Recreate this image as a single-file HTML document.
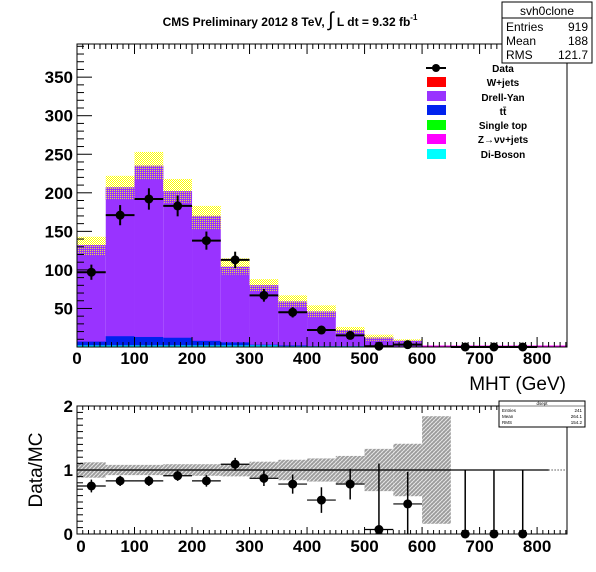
<!DOCTYPE html>
<html><head><meta charset="utf-8"><style>
body{margin:0;background:#fff;}
svg{display:block;font-family:"Liberation Sans",sans-serif;}
</style></head><body>
<svg id="c" width="596" height="572" xmlns="http://www.w3.org/2000/svg">
<defs>
<pattern id="yel" width="2" height="2" patternUnits="userSpaceOnUse"><rect width="2" height="2" fill="#fff"/><rect width="1" height="1" fill="#ffff00"/><rect x="1" y="1" width="1" height="1" fill="#ffff00"/></pattern>
<pattern id="hat" width="2" height="2" patternUnits="userSpaceOnUse"><rect width="2" height="2" fill="#9933ff"/><rect width="1" height="1" fill="#f0e040"/></pattern>
<pattern id="gry" width="4" height="4" patternUnits="userSpaceOnUse"><rect width="4" height="4" fill="#fff"/><path d="M0 4L4 0M-1 1L1 -1M3 5L5 3" stroke="#999" stroke-width="1.8"/><path d="M0 0L4 4" stroke="#aaa" stroke-width="1"/></pattern>
</defs>
<g id="main"></g><g id="lower"></g>
</svg>
<script>
const binLo=[0,50,100,150,200,250,300,350,400,450,500,550,600,650,700,750];
const dataVals=[97,171,192,183,138,113,67,45,22,15,1,3,null,0,0,0];
const mcTotal=[132,207,235,202,170,104,80,59,46,22,12,8,0,0,0,0];
const mcLow=[118,191,217,187,153,94,72,52,38,18,8,6,0,0,0,0];
const mcUp=[143,222,253,218,183,115,88,67,54,26,16,10,0,0,0,0];
const ttbar=[7,14,13,12,8,6,3,2,1,1,0,0,0,0,0,0];
const diboson=[2,2,2,2,2,2,2,1,1,1,0,0,0,0,0,0];
const ratioVals=[0.75,0.83,0.83,0.91,0.83,1.09,0.87,0.78,0.53,0.78,0.07,0.47,null,0,0,0];
const ratioErr=[0.1,0.08,0.08,0.08,0.09,0.1,0.12,0.15,0.2,0.24,1.03,0.5,null,1.0,1.0,1.0];
const bandHalf=[0.12,0.08,0.08,0.09,0.09,0.1,0.13,0.16,0.18,0.22,0.33,0.41,0.84];
const yTicks=[50,100,150,200,250,300,350];
const xTicks=[0,100,200,300,400,500,600,700,800];
const rTicks=[0,1,2];
const NS="http://www.w3.org/2000/svg";
const L=77,R=567,T=44,B=347,XMAX=852,YMAX=393;
const LT=406,LB=534;
const X=v=>L+v*(R-L)/XMAX;
const Y=v=>B-v*(B-T)/YMAX;
const YR=v=>LB-v*(LB-LT)/2;
function mk(p,tag,at,txt){const e=document.createElementNS(NS,tag);for(const k in at)e.setAttribute(k,at[k]);if(txt!==undefined)e.textContent=txt;p.appendChild(e);return e;}
const g=document.getElementById('main'),lg=document.getElementById('lower');
binLo.forEach((b,i)=>{
 const x0=X(b),x1=X(b+50);
 if(mcUp[i]>0){let r=mk(g,'rect',{x:x0,y:Y(mcUp[i]),width:x1-x0,height:Y(mcLow[i])-Y(mcUp[i]),fill:'url(#yel)'});
 }
 if(mcTotal[i]>0){let r=mk(g,'rect',{x:x0,y:Y(mcTotal[i]),width:x1-x0,height:B-Y(mcTotal[i]),fill:'#9933ff'});
 
 let h=mk(g,'rect',{x:x0,y:Y(mcTotal[i]),width:x1-x0,height:Y(mcLow[i])-Y(mcTotal[i]),fill:'url(#hat)'});
 }
 if(ttbar[i]>0){let r=mk(g,'rect',{x:x0,y:Y(ttbar[i]),width:x1-x0,height:B-Y(ttbar[i]),fill:'#0022ee'});
 }
 if(diboson[i]>0){let r=mk(g,'rect',{x:x0,y:Y(diboson[i]),width:x1-x0,height:B-Y(diboson[i]),fill:'#00ffff'});
 }
});
mk(g,'line',{x1:X(600),x2:R,y1:B-1,y2:B-1,stroke:'#ff00ff','stroke-width':1});
binLo.forEach((b,i)=>{const v=dataVals[i];if(v===null)return;
 const cx=X(b+25),cy=Y(v),e=Math.sqrt(v);
 mk(g,'line',{x1:X(b),x2:X(b+50),y1:cy,y2:cy,stroke:'#000','stroke-width':2});
 if(v>0)mk(g,'line',{x1:cx,x2:cx,y1:Y(v+e),y2:Math.min(B,Y(v-e)),stroke:'#000','stroke-width':2});
 let c=mk(g,'circle',{cx:cx,cy:cy,r:4.5,fill:'#000'});
 
});
mk(g,'rect',{x:L,y:T,width:R-L,height:B-T,fill:'none',stroke:'#000','stroke-width':1,});
for(let v=10;v<YMAX;v+=10){const y=Y(v);mk(g,'line',{x1:L,x2:L+(v%50==0?15:7),y1:y,y2:y,stroke:'#000'});}
for(let v=10;v<XMAX;v+=10){const x=X(v);mk(g,'line',{x1:x,x2:x,y1:B,y2:B-(v%100==0?10:5),stroke:'#000'});mk(g,'line',{x1:x,x2:x,y1:T,y2:T+(v%100==0?10:5),stroke:'#000'});}
yTicks.forEach(v=>{let t=mk(g,'text',{x:L-4,y:Y(v)+6,'text-anchor':'end','font-size':17,'font-weight':'bold'},v);});
xTicks.forEach(v=>{let t=mk(g,'text',{x:X(v),y:B+17,'text-anchor':'middle','font-size':17,'font-weight':'bold'},v);});
binLo.forEach((b,i)=>{if(i>=bandHalf.length)return;const h=bandHalf[i];
 let r=mk(lg,'rect',{x:X(b),y:YR(1+h),width:X(b+50)-X(b),height:YR(1-h)-YR(1+h),fill:'url(#gry)'});
 });
mk(lg,'line',{x1:L,x2:X(820),y1:YR(1),y2:YR(1),stroke:'#000','stroke-width':1.3});
mk(lg,'line',{x1:X(820),x2:R,y1:YR(1),y2:YR(1),stroke:'#000','stroke-dasharray':'1,2'});
binLo.forEach((b,i)=>{const v=ratioVals[i];if(v===null)return;const cx=X(b+25),cy=YR(v),e=ratioErr[i];
 if(v>0)mk(lg,'line',{x1:X(b),x2:X(b+50),y1:cy,y2:cy,stroke:'#000','stroke-width':1.2});
 mk(lg,'line',{x1:cx,x2:cx,y1:YR(v+e),y2:Math.min(LB,YR(v-e)),stroke:'#000','stroke-width':1.5});
 let c=mk(lg,'circle',{cx:cx,cy:cy,r:4.5,fill:'#000'});
 });
mk(lg,'rect',{x:L,y:LT,width:R-L,height:LB-LT,fill:'none',stroke:'#000',});
for(let v=10;v<XMAX;v+=10){const x=X(v);mk(lg,'line',{x1:x,x2:x,y1:LB,y2:LB-(v%100==0?7:4),stroke:'#000'});mk(lg,'line',{x1:x,x2:x,y1:LT,y2:LT+(v%100==0?7:4),stroke:'#000'});}
for(let v=0.1;v<2;v+=0.1){const y=YR(v);mk(lg,'line',{x1:L,x2:L+(Math.abs(v-1)<0.01?12:6),y1:y,y2:y,stroke:'#000'});}
rTicks.forEach(v=>{let t=mk(lg,'text',{x:L-4,y:YR(v)+6,'text-anchor':'end','font-size':17,'font-weight':'bold'},v);});
xTicks.forEach(v=>{let t=mk(lg,'text',{x:X(v)+(v==0?4:0),y:LB+18,'text-anchor':'middle','font-size':17,'font-weight':'bold'},v);});
</script>
<svg width="596" height="572" style="position:absolute;left:0;top:0">
<text x="290" y="26" text-anchor="middle" font-size="12" font-weight="bold" font-family="Liberation Sans,sans-serif">CMS Preliminary 2012 8 TeV, <tspan font-size="20" font-weight="normal">∫</tspan> L dt = 9.32 fb<tspan font-size="8" dy="-6">-1</tspan></text>
<g font-family="Liberation Sans,sans-serif" font-size="12">
<rect x="502" y="2" width="90" height="61" fill="#fff" stroke="#000"/>
<line x1="502" y1="18" x2="592" y2="18" stroke="#000"/>
<text x="547" y="15" text-anchor="middle">svh0clone</text>
<text x="506" y="31">Entries</text><text x="588" y="31" text-anchor="end">919</text>
<text x="506" y="45">Mean</text><text x="588" y="45" text-anchor="end">188</text>
<text x="506" y="59">RMS</text><text x="588" y="59" text-anchor="end">121.7</text>
</g>
<g font-family="Liberation Sans,sans-serif" font-size="10" font-weight="bold">
<line x1="426" y1="68" x2="446" y2="68" stroke="#000" stroke-width="2"/><circle cx="436" cy="68" r="4" fill="#000"/><text x="503" y="72" text-anchor="middle">Data</text>
<rect x="427" y="77" width="19" height="10" fill="#ff0000"/><text x="503" y="86" text-anchor="middle">W+jets</text>
<rect x="427" y="91" width="19" height="10" fill="#9933ff"/><text x="503" y="101" text-anchor="middle">Drell-Yan</text>
<rect x="427" y="105" width="19" height="10" fill="#0022ee"/><text x="503" y="115" text-anchor="middle">tt̄</text>
<rect x="427" y="120" width="19" height="10" fill="#00ff00"/><text x="503" y="129" text-anchor="middle">Single top</text>
<rect x="427" y="134" width="19" height="10" fill="#ff00ff"/><text x="503" y="143" text-anchor="middle">Z→νν+jets</text>
<rect x="427" y="149" width="19" height="10" fill="#00ffff"/><text x="503" y="158" text-anchor="middle">Di-Boson</text>
</g>
<text x="566" y="390" text-anchor="end" font-size="19" font-family="Liberation Sans,sans-serif">MHT (GeV)</text>
<text transform="translate(42,470) rotate(-90)" text-anchor="middle" font-size="19" font-family="Liberation Sans,sans-serif">Data/MC</text>
<g font-family="Liberation Sans,sans-serif" font-size="4.5">
<rect x="499" y="401" width="86" height="26" fill="#fff" stroke="#000"/>
<line x1="499" y1="406" x2="585" y2="406" stroke="#000" stroke-width="0.5"/>
<text x="542" y="405" text-anchor="middle">dsept</text>
<text x="502" y="412">Entries</text><text x="582" y="412" text-anchor="end">241</text>
<text x="502" y="418">Mean</text><text x="582" y="418" text-anchor="end">264.1</text>
<text x="502" y="424">RMS</text><text x="582" y="424" text-anchor="end">154.2</text>
</g>
</svg>
</body></html>
